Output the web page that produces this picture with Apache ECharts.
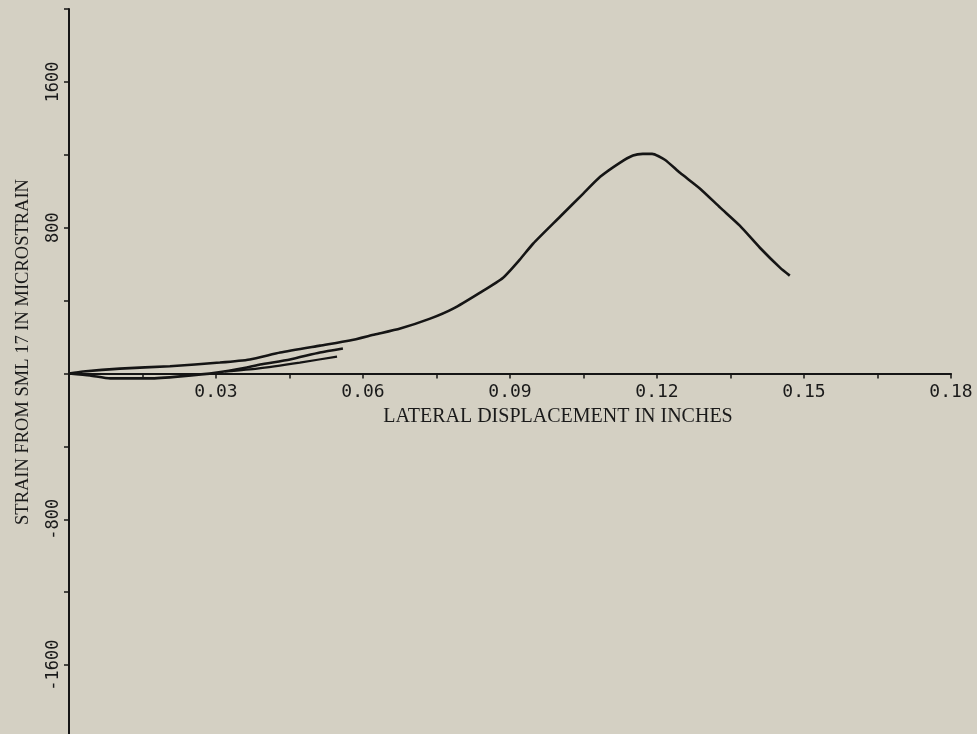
<!DOCTYPE html>
<html>
<head>
<meta charset="utf-8">
<script src="https://cdn.jsdelivr.net/npm/echarts@6/dist/echarts.min.js"></script>
<style>
html,body{margin:0;padding:0;background:#d4d0c3;}
#chart{width:977px;height:734px;}
</style>
</head>
<body>
<div id="chart"></div>
<script>
// Axis tick values
const xTicks = [0.03, 0.06, 0.09, 0.12, 0.15, 0.18];
const yTicks = [-1600, -800, 800, 1600];

// Main loading curve (lateral displacement in inches, strain in microstrain)
const mainX = [0, 0.0029, 0.0104, 0.0206, 0.0308, 0.0369, 0.0431, 0.0512, 0.0573, 0.0624, 0.0676, 0.0737, 0.0784, 0.0839, 0.0886, 0.0920, 0.0947, 0.1002, 0.1049, 0.1084, 0.1124, 0.1151, 0.1171, 0.1190, 0.1216, 0.1247, 0.1288, 0.1329, 0.1369, 0.1410, 0.1451, 0.1471];
const mainY = [0, 11, 27, 40, 60, 77, 115, 153, 181, 214, 247, 301, 356, 444, 526, 625, 712, 860, 986, 1079, 1156, 1196, 1205, 1205, 1173, 1101, 1014, 910, 811, 690, 581, 537];

// Return branch of the first cycle
const loopX = [0.0559, 0.0512, 0.0451, 0.0390, 0.0363, 0.0302, 0.0227, 0.0165, 0.0084, 0.0043, 0];
const loopY = [137, 115, 77, 49, 33, 5, -16, -27, -27, -11, 0];

// Inner cycle branch
const innerX = [0.0318, 0.0384, 0.0471, 0.0547];
const innerY = [11, 27, 60, 93];

function pairs(xs, ys){ return xs.map((x,i)=>[x, ys[i]]); }

const chart = echarts.init(document.getElementById('chart'), null, {renderer:'canvas'});
const ink = '#151515';
const lineStyle = {color: ink, width: 2.6};

const gridTop = 9, gridBottom = -4, H = 734;
const zeroOffset = -((H - gridBottom) - (gridTop + (H - gridTop - gridBottom) / 2));

chart.setOption({
  backgroundColor: '#d4d0c3',
  animation: false,
  grid: {left: 69, right: 26, top: gridTop, bottom: gridBottom, containLabel: false, outerBoundsMode: 'none'},
  xAxis: {
    type: 'value', min: 0, max: 0.18, interval: 0.015,
    position: 'bottom', offset: zeroOffset,
    axisLine: {onZero: false, lineStyle: {color: ink, width: 2}},
    axisTick: {show: true, inside: false, length: 5, lineStyle: {color: ink, width: 1.5}},
    splitLine: {show: false},
    axisLabel: {
      margin: 10,
      color: '#1a1a1a', fontFamily: 'DejaVu Sans Mono', fontSize: 18,
      formatter: v => {
        const r = Math.round(v * 1000) / 1000;
        return xTicks.some(t => Math.abs(t - r) < 1e-6) ? r.toFixed(2) : '';
      }
    }
  },
  yAxis: {
    type: 'value', min: -2000, max: 2000, interval: 400,
    axisLine: {lineStyle: {color: ink, width: 2}},
    axisTick: {show: true, inside: false, length: 5, lineStyle: {color: ink, width: 1.5}},
    splitLine: {show: false},
    axisLabel: {
      rotate: 90, margin: 7,
      color: '#1a1a1a', fontFamily: 'DejaVu Sans Mono', fontSize: 17,
      formatter: v => yTicks.indexOf(Math.round(v)) >= 0 ? String(Math.round(v)) : ''
    }
  },
  graphic: [
    {type: 'text', x: 558, y: 417, silent: true,
     style: {text: 'LATERAL DISPLACEMENT IN INCHES', fill: '#1a1a1a',
             font: '20px "Liberation Serif"', align: 'center', verticalAlign: 'middle'}},
    {type: 'text', x: 23, y: 352, rotation: Math.PI / 2, silent: true,
     style: {text: 'STRAIN FROM SML 17 IN MICROSTRAIN', fill: '#1a1a1a',
             font: '18.5px "Liberation Serif"', align: 'center', verticalAlign: 'middle'}}
  ],
  series: [
    {type: 'line', data: pairs(mainX, mainY), showSymbol: false, smooth: 0.2, lineStyle: lineStyle},
    {type: 'line', data: pairs(loopX, loopY), showSymbol: false, smooth: 0.2, lineStyle: lineStyle},
    {type: 'line', data: pairs(innerX, innerY), showSymbol: false, smooth: 0.2, lineStyle: {color: ink, width: 2.2}}
  ]
});
</script>
</body>
</html>
